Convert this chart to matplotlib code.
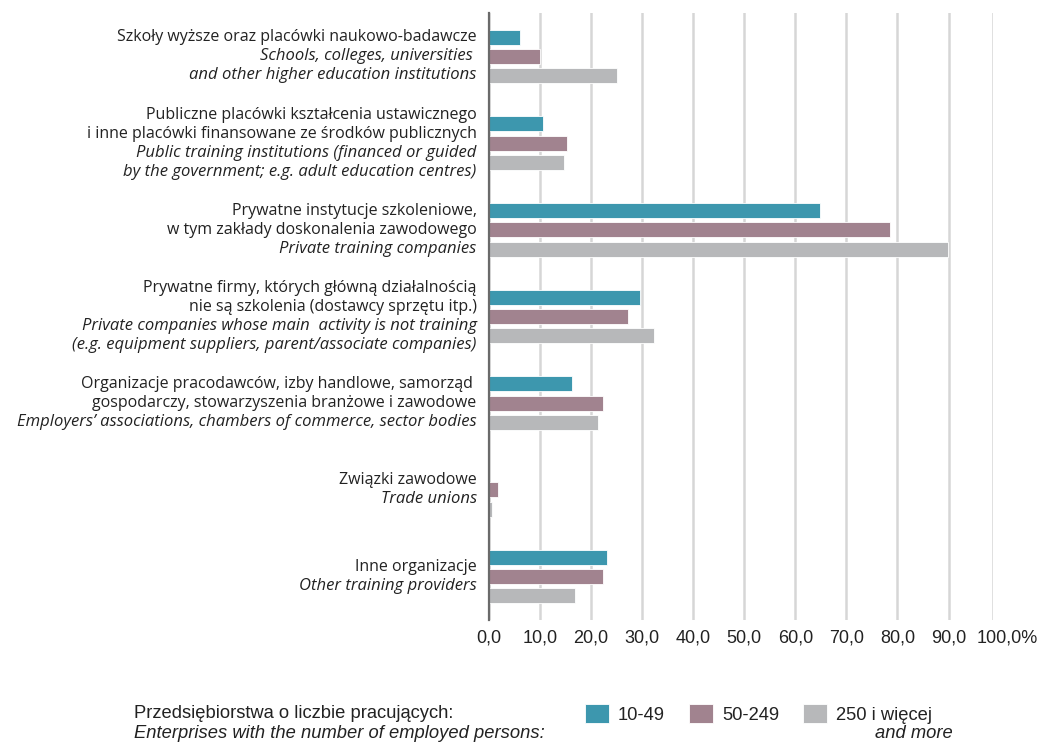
import matplotlib
matplotlib.use("Agg")
import matplotlib.pyplot as plt
import matplotlib.transforms as mtransforms
import numpy as np

# ---------------- data ----------------
categories_pl = [
    ["Szkoły wyższe oraz placówki naukowo-badawcze"],
    ["Publiczne placówki kształcenia ustawicznego",
     "i inne placówki finansowane ze środków publicznych"],
    ["Prywatne instytucje szkoleniowe,",
     "w tym zakłady doskonalenia zawodowego"],
    ["Prywatne firmy, których główną działalnością",
     "nie są szkolenia (dostawcy sprzętu itp.)"],
    ["Organizacje pracodawców, izby handlowe, samorząd ",
     "gospodarczy, stowarzyszenia branżowe i zawodowe"],
    ["Związki zawodowe"],
    ["Inne organizacje"],
]
categories_en = [
    ["Schools, colleges, universities ",
     "and other higher education institutions"],
    ["Public training institutions (financed or guided",
     "by the government; e.g. adult education centres)"],
    ["Private training companies"],
    ["Private companies whose main  activity is not training",
     "(e.g. equipment suppliers, parent/associate companies)"],
    ["Employers\u2019 associations, chambers of commerce, sector bodies"],
    ["Trade unions"],
    ["Other training providers"],
]

series_names = ["10-49", "50-249", "250 i więcej"]
vals_10_49 = [6.2, 10.6, 64.8, 29.7, 16.4, 0.1, 23.1]
vals_50_249 = [10.0, 15.3, 78.5, 27.3, 22.4, 1.9, 22.4]
vals_250 = [25.2, 14.8, 89.9, 32.3, 21.3, 0.6, 16.8]
series_values = [vals_10_49, vals_50_249, vals_250]

tick_values = [0, 10, 20, 30, 40, 50, 60, 70, 80, 90]
tick_labels = ["0,0", "10,0", "20,0", "30,0", "40,0", "50,0", "60,0",
               "70,0", "80,0", "90,0"]
last_tick_label = "100,0%"

legend_title_pl = "Przedsiębiorstwa o liczbie pracujących:"
legend_title_en = "Enterprises with the number of employed persons:"
legend_last_en = "and more"

# ---------------- style ----------------
colors = ["#3D97AE", "#A1838F", "#B7B8BA"]
label_font = ["Open Sans", "DejaVu Sans"]
num_font = ["Liberation Sans", "DejaVu Sans"]
text_color = "#222222"

W, H = 1038, 744
DPI = 100
fig = plt.figure(figsize=(W / DPI, H / DPI), dpi=DPI)
ax = fig.add_axes([488.7 / W, (H - 620) / H, (993 - 488.7) / W, (620 - 13) / H])

x_max = 98.7
n = len(categories_pl)
pos = np.arange(n)
bar_h = 0.173
step = 0.223
offsets = [-step, 0.0, step]

containers = []
for vals, off, col, name in zip(series_values, offsets, colors, series_names):
    c = ax.barh(pos + off, vals, height=bar_h, color=col, edgecolor="white",
                linewidth=0.6, label=name, zorder=2)
    containers.append(c)

ax.set_xlim(0, x_max)
ax.set_ylim(n - 0.5, -0.5)

ax.set_xticks(tick_values + [x_max])
ax.set_xticklabels(tick_labels + [last_tick_label], fontfamily=num_font,
                   fontsize=13, color=text_color)
ax.tick_params(axis="x", length=0, pad=6.5)
ax.set_yticks([])
ax.grid(axis="x", color="#D6D6D6", linewidth=1.8, zorder=0)
ax.set_axisbelow(True)
for s in ["top", "right", "bottom"]:
    ax.spines[s].set_visible(False)
ax.spines["left"].set_color("#6A6A6A")
ax.spines["left"].set_linewidth(1.6)
ax.spines["left"].set_zorder(3)

# shift the last tick label a bit to the right (as in the original)
lbl = ax.get_xticklabels()[-1]
lbl.set_transform(lbl.get_transform() +
                  mtransforms.ScaledTranslation(14 / DPI, 0, fig.dpi_scale_trans))

# ---------------- category labels ----------------
line_px = 19.0
trans = mtransforms.blended_transform_factory(ax.transAxes, ax.transData)
for i in range(n):
    lines = [(t, "normal", 11.5) for t in categories_pl[i]] + \
            [(t, "italic", 12.0) for t in categories_en[i]]
    k = len(lines)
    for j, (t, style, fs) in enumerate(lines):
        dy_px = -((j - (k - 1) / 2.0) * line_px)
        ax.annotate(t, xy=(0, pos[i]), xycoords=trans,
                    xytext=(-12 * 0.72, dy_px * 0.72), textcoords="offset points",
                    ha="right", va="center", fontsize=fs, fontstyle=style,
                    family=label_font, color=text_color, annotation_clip=False)

# ---------------- legend ----------------
leg_fs = 13.2
fig.text(134 / W, (H - 713) / H, legend_title_pl, ha="left", va="center",
         fontsize=leg_fs, family=num_font, color=text_color)
fig.text(134 / W, (H - 734) / H, legend_title_en, ha="left", va="center",
         fontsize=leg_fs, family=num_font, fontstyle="italic", color=text_color)
leg = fig.legend(handles=containers, labels=series_names, ncol=3,
                 loc="center left", bbox_to_anchor=(585 / W, (H - 714) / H),
                 frameon=False, prop={"family": num_font, "size": leg_fs},
                 handlelength=1.31, handleheight=1.24, handletextpad=0.49,
                 columnspacing=1.3, borderpad=0, borderaxespad=0)
for t in leg.get_texts():
    t.set_color(text_color)
fig.text(953 / W, (H - 734) / H, legend_last_en, ha="right", va="center",
         fontsize=leg_fs, family=num_font, fontstyle="italic", color=text_color)

fig.savefig("out.png", dpi=DPI)
